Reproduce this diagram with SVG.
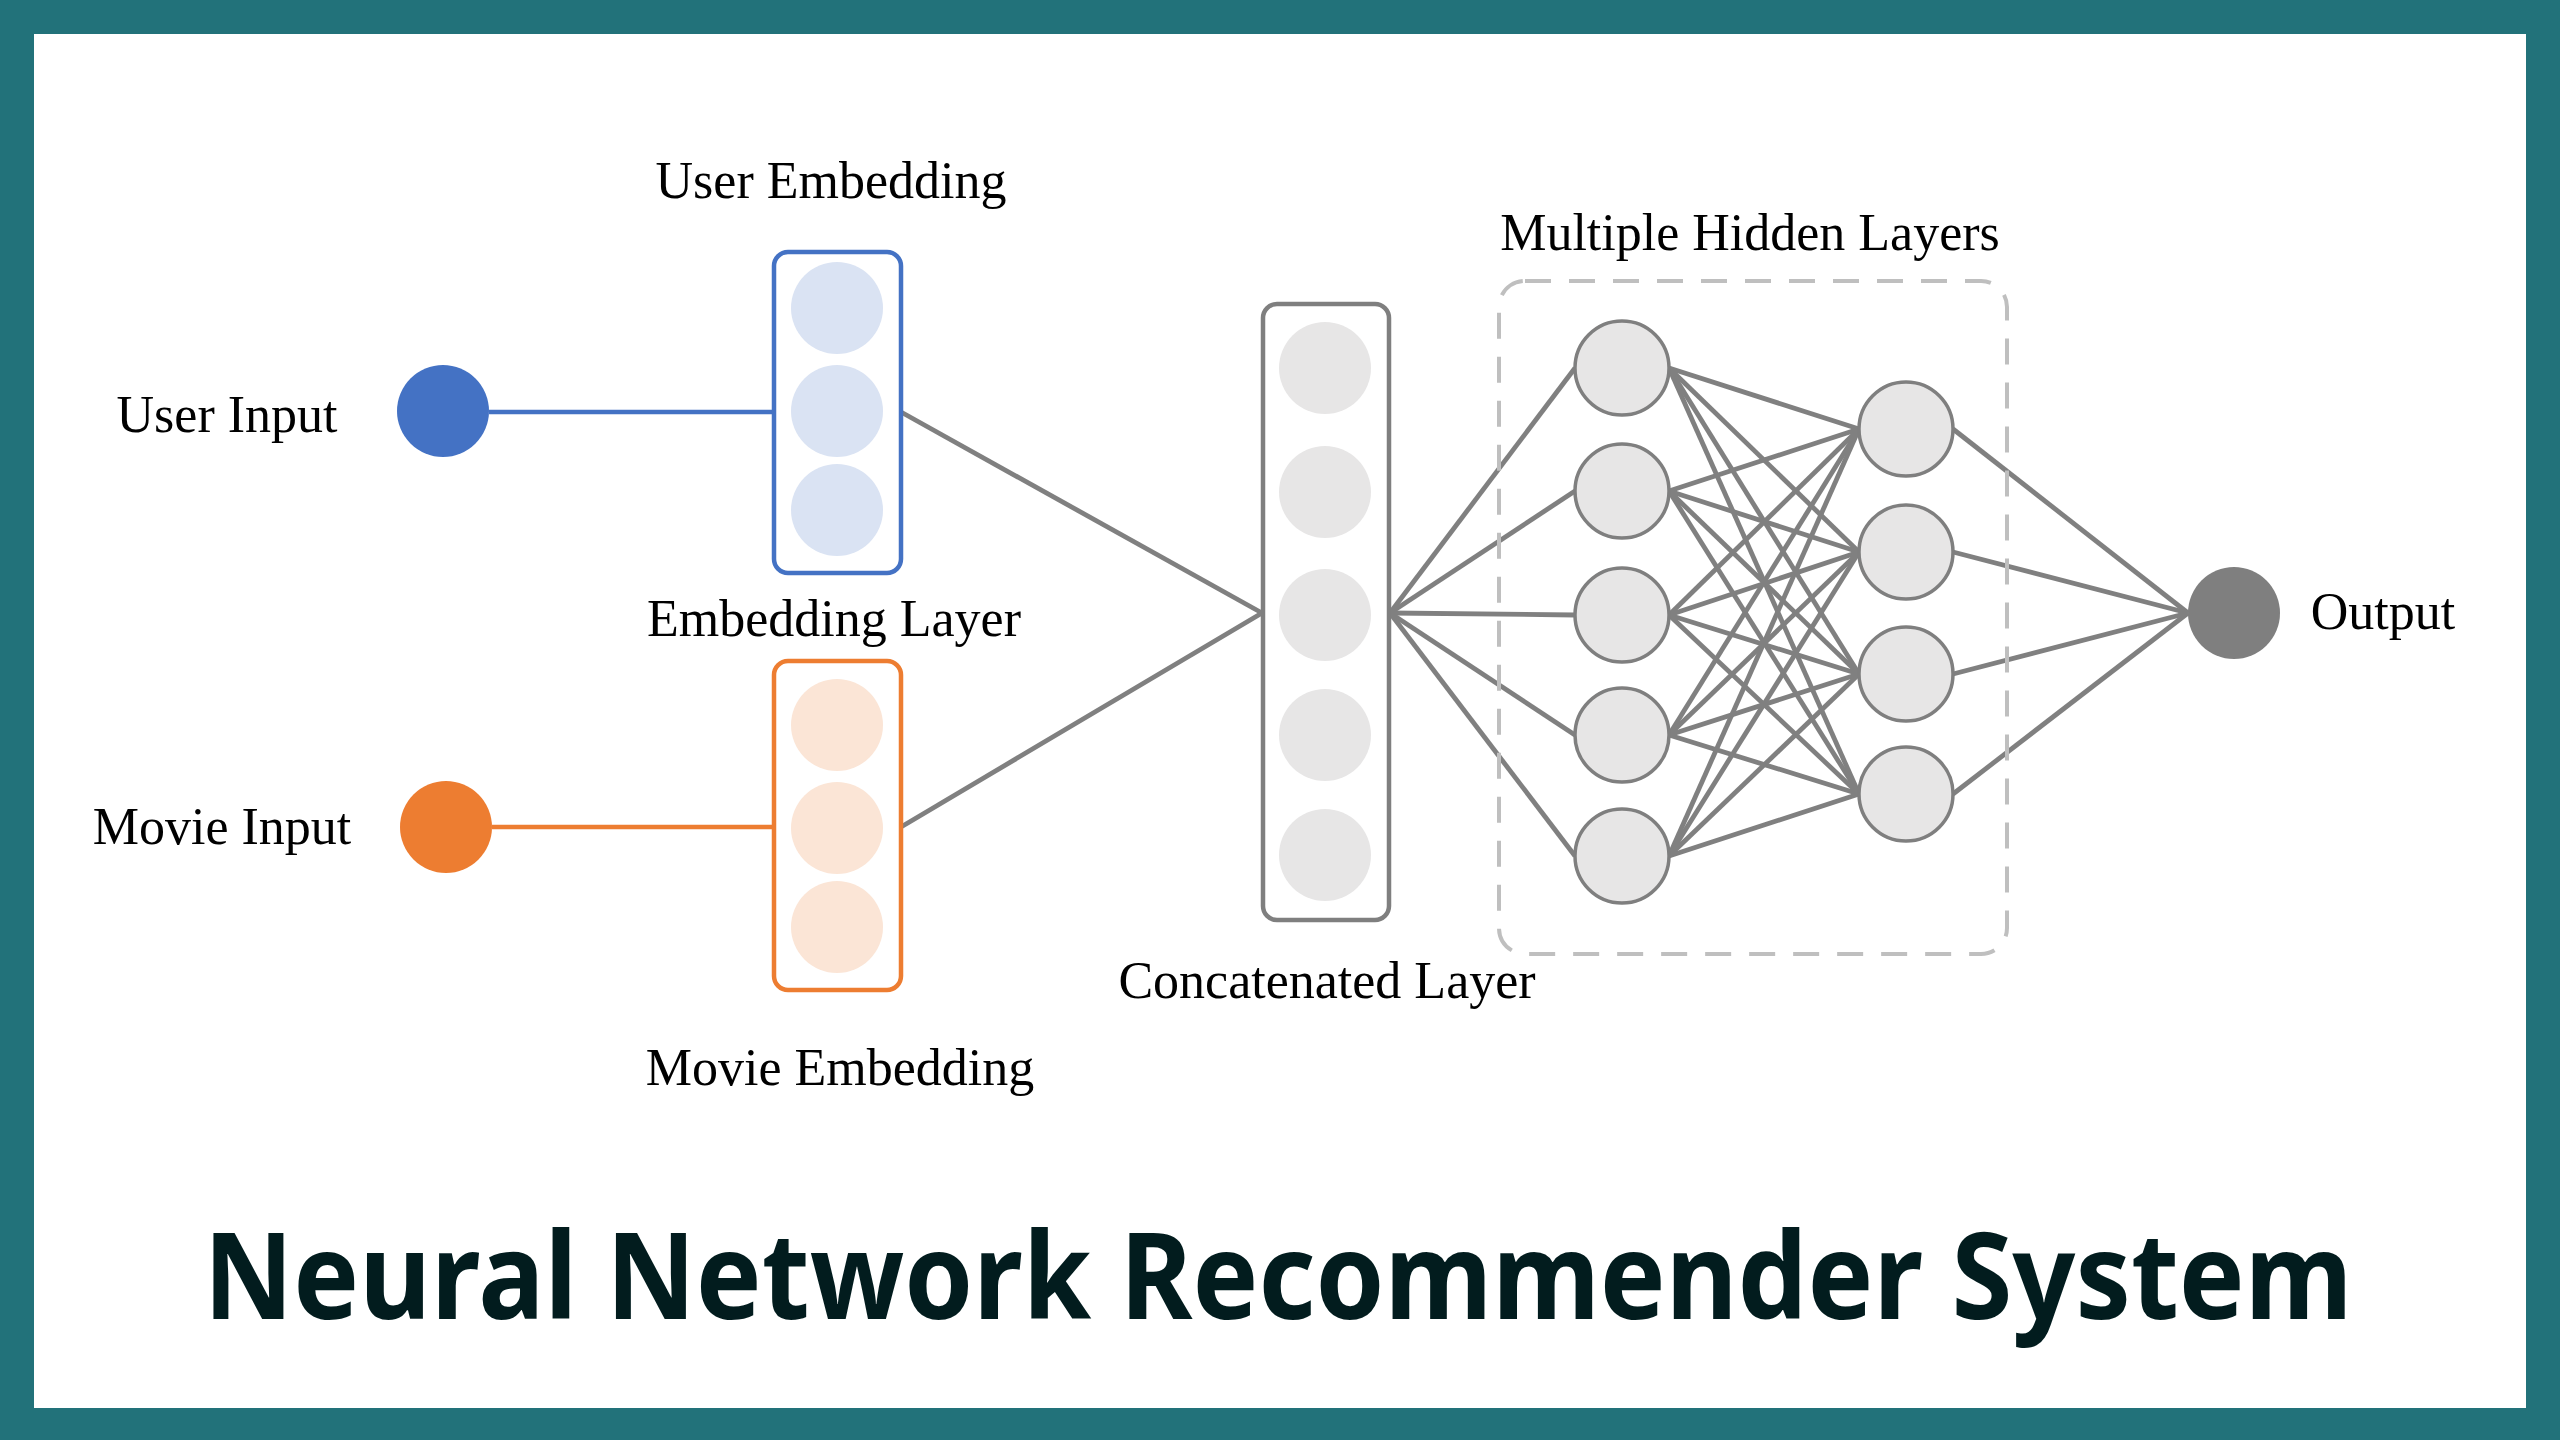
<svg xmlns="http://www.w3.org/2000/svg" width="2560" height="1440" viewBox="0 0 2560 1440">
<style>
.lbl{font-family:"Liberation Serif","Times New Roman",serif;font-size:52px;fill:#000;text-anchor:middle}
.ln{stroke:#808080;stroke-width:4.8;fill:none}
.hn{fill:#E7E6E6;stroke:#7F7F7F;stroke-width:3.5}
.cn{fill:#E7E6E6}
.title{font-family:"Noto Sans","Open Sans",sans-serif;font-weight:700;font-size:120px;fill:#021C1E;text-anchor:middle}
</style>
<rect x="0" y="0" width="2560" height="1440" fill="#22727A"/>
<rect x="34" y="34" width="2492" height="1374" fill="#FFFFFF"/>

<g id="connectors">
<line x1="489" y1="412" x2="774" y2="412" stroke="#4472C4" stroke-width="4.5"/>
<line x1="492" y1="827" x2="774" y2="827" stroke="#ED7D31" stroke-width="4.5"/>
<line class="ln" x1="901" y1="412" x2="1262" y2="613"/>
<line class="ln" x1="901" y1="827" x2="1262" y2="613"/>
<line class="ln" x1="1390" y1="613" x2="1575" y2="368"/>
<line class="ln" x1="1390" y1="613" x2="1575" y2="491"/>
<line class="ln" x1="1390" y1="613" x2="1575" y2="615"/>
<line class="ln" x1="1390" y1="613" x2="1575" y2="735"/>
<line class="ln" x1="1390" y1="613" x2="1575" y2="856"/>
<g class="ln">
<line x1="1669" y1="368" x2="1859" y2="429"/><line x1="1669" y1="368" x2="1859" y2="552"/><line x1="1669" y1="368" x2="1859" y2="674"/><line x1="1669" y1="368" x2="1859" y2="794"/>
<line x1="1669" y1="491" x2="1859" y2="429"/><line x1="1669" y1="491" x2="1859" y2="552"/><line x1="1669" y1="491" x2="1859" y2="674"/><line x1="1669" y1="491" x2="1859" y2="794"/>
<line x1="1669" y1="615" x2="1859" y2="429"/><line x1="1669" y1="615" x2="1859" y2="552"/><line x1="1669" y1="615" x2="1859" y2="674"/><line x1="1669" y1="615" x2="1859" y2="794"/>
<line x1="1669" y1="735" x2="1859" y2="429"/><line x1="1669" y1="735" x2="1859" y2="552"/><line x1="1669" y1="735" x2="1859" y2="674"/><line x1="1669" y1="735" x2="1859" y2="794"/>
<line x1="1669" y1="856" x2="1859" y2="429"/><line x1="1669" y1="856" x2="1859" y2="552"/><line x1="1669" y1="856" x2="1859" y2="674"/><line x1="1669" y1="856" x2="1859" y2="794"/>
</g>
<line class="ln" x1="1953" y1="429" x2="2188" y2="613"/>
<line class="ln" x1="1953" y1="552" x2="2188" y2="613"/>
<line class="ln" x1="1953" y1="674" x2="2188" y2="613"/>
<line class="ln" x1="1953" y1="794" x2="2188" y2="613"/>
</g>

<g id="hidden-group">
<rect x="1499" y="281" width="508" height="673" rx="26" fill="none" stroke="#BFBFBF" stroke-width="4" stroke-dasharray="26 18"/>
<text class="lbl" x="1750" y="250">Multiple Hidden Layers</text>
</g>

<g id="user-input">
<circle cx="443" cy="411" r="46" fill="#4472C4"/>
<text class="lbl" x="227" y="432">User Input</text>
</g>

<g id="movie-input">
<circle cx="446" cy="827" r="46" fill="#ED7D31"/>
<text class="lbl" x="222" y="844">Movie Input</text>
</g>

<g id="user-embedding">
<rect x="774" y="252" width="127" height="321" rx="14" fill="#FFFFFF" stroke="#4472C4" stroke-width="4.5"/>
<circle cx="837" cy="308" r="46" fill="#DAE3F3"/>
<circle cx="837" cy="411" r="46" fill="#DAE3F3"/>
<circle cx="837" cy="510" r="46" fill="#DAE3F3"/>
<text class="lbl" x="831" y="198">User Embedding</text>
</g>

<text id="embedding-layer" class="lbl" x="834" y="636">Embedding Layer</text>

<g id="movie-embedding">
<rect x="774" y="661" width="127" height="329" rx="14" fill="#FFFFFF" stroke="#ED7D31" stroke-width="4.5"/>
<circle cx="837" cy="725" r="46" fill="#FBE5D6"/>
<circle cx="837" cy="828" r="46" fill="#FBE5D6"/>
<circle cx="837" cy="927" r="46" fill="#FBE5D6"/>
<text class="lbl" x="840" y="1085">Movie Embedding</text>
</g>

<g id="concatenated-layer">
<rect x="1263" y="304" width="126" height="616" rx="14" fill="#FFFFFF" stroke="#7F7F7F" stroke-width="4.5"/>
<circle class="cn" cx="1325" cy="368" r="46"/>
<circle class="cn" cx="1325" cy="492" r="46"/>
<circle class="cn" cx="1325" cy="615" r="46"/>
<circle class="cn" cx="1325" cy="735" r="46"/>
<circle class="cn" cx="1325" cy="855" r="46"/>
<text class="lbl" x="1327" y="998">Concatenated Layer</text>
</g>

<g id="hidden-1">
<circle class="hn" cx="1622" cy="368" r="47"/>
<circle class="hn" cx="1622" cy="491" r="47"/>
<circle class="hn" cx="1622" cy="615" r="47"/>
<circle class="hn" cx="1622" cy="735" r="47"/>
<circle class="hn" cx="1622" cy="856" r="47"/>
</g>

<g id="hidden-2">
<circle class="hn" cx="1906" cy="429" r="47"/>
<circle class="hn" cx="1906" cy="552" r="47"/>
<circle class="hn" cx="1906" cy="674" r="47"/>
<circle class="hn" cx="1906" cy="794" r="47"/>
</g>

<g id="output">
<circle cx="2234" cy="613" r="46" fill="#7F7F7F"/>
<text class="lbl" x="2383" y="629">Output</text>
</g>

<text id="title" class="title" x="1278" y="1319" textLength="2149" lengthAdjust="spacingAndGlyphs">Neural Network Recommender System</text>
</svg>
